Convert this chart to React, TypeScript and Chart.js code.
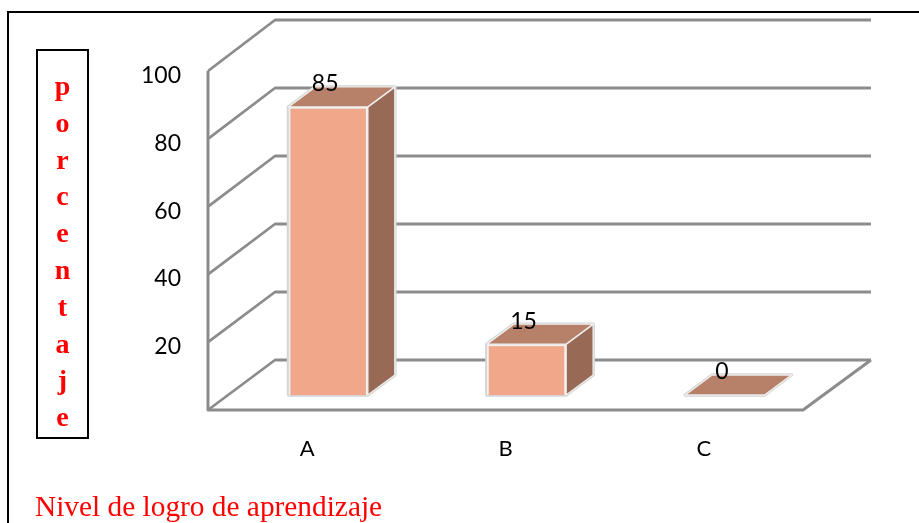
import React, { useEffect, useRef } from "react";
import { Chart, registerables } from "chart.js";

Chart.register(...registerables);

const categories = ["A", "B", "C"];
const values = [85, 15, 0];
const axisLetters = ["p", "o", "r", "c", "e", "n", "t", "a", "j", "e"];
const xTitle = "Nivel de logro de aprendizaje";

const FRONT = "#F1A88A";
const TOP = "#B78068";
const SIDE = "#986A56";
const GRID = "#8C8C8C";
const WALL_DX = 67;
const WALL_K = 340 / 339;
const BAR_DX = 21;
const BAR_DY = -15;
const DEPTH_X = 27;
const DEPTH_Y = -20;

const poly = (ctx: CanvasRenderingContext2D, pts: number[][], fill?: string, stroke?: string, lw = 1) => {
  ctx.beginPath();
  pts.forEach((p, i) => (i ? ctx.lineTo(p[0], p[1]) : ctx.moveTo(p[0], p[1])));
  if (fill) {
    ctx.closePath();
    ctx.fillStyle = fill;
    ctx.fill();
  }
  if (stroke) {
    ctx.strokeStyle = stroke;
    ctx.lineWidth = lw;
    ctx.lineJoin = "round";
    ctx.stroke();
  }
};

const threeD = {
  id: "threeD",
  beforeDatasetsDraw(chart: any) {
    const { ctx, chartArea: a, scales } = chart;
    const yS = scales.y;
    const backY = (y: number) => a.bottom - 50 + (y - a.bottom) * WALL_K;
    ctx.save();
    yS.ticks.forEach((t: any) => {
      const y = yS.getPixelForValue(t.value);
      poly(ctx, [[a.left, y], [a.left + WALL_DX, backY(y)], [a.right + WALL_DX + 1, backY(y)]], undefined, GRID, 2.8);
    });
    // floor edges and front vertical axis
    poly(ctx, [[a.left, a.top], [a.left, a.bottom], [a.right, a.bottom], [a.right + WALL_DX + 1, backY(a.bottom)]], undefined, GRID, 3);
    ctx.restore();

    ctx.save();
    ctx.translate(BAR_DX, BAR_DY);
    chart.getDatasetMeta(0).data.forEach((bar: any) => {
      const half = bar.width / 2;
      const l = bar.x - half;
      const r = bar.x + half;
      const t = bar.y;
      const b = bar.base;
      const edge = "#EDEDED";
      // soft grey halo round the whole block
      poly(
        ctx,
        [[l, b], [l, t], [l + DEPTH_X, t + DEPTH_Y], [r + DEPTH_X, t + DEPTH_Y], [r + DEPTH_X, b + DEPTH_Y], [r, b]],
        "#D4D4D4",
        "#D4D4D4",
        3.4
      );
      poly(ctx, [[r, t], [r + DEPTH_X, t + DEPTH_Y], [r + DEPTH_X, b + DEPTH_Y], [r, b]], SIDE, edge, 1.4);
      poly(ctx, [[l, t], [l + DEPTH_X, t + DEPTH_Y], [r + DEPTH_X, t + DEPTH_Y], [r, t]], TOP, edge, 1.4);
    });
    // stays translated so that the library's bars land in the middle of the floor
  },
  afterDatasetsDraw(chart: any) {
    const { ctx } = chart;
    ctx.restore();
    ctx.save();
    ctx.font = "23px Lato";
    ctx.fillStyle = "#000";
    ctx.textAlign = "center";
    ctx.textBaseline = "middle";
    chart.getDatasetMeta(0).data.forEach((bar: any, i: number) => {
      ctx.fillText(String(values[i]), bar.x + BAR_DX - 3, bar.y + BAR_DY - 23);
    });
    ctx.restore();
  },
};

export default function App() {
  const ref = useRef<HTMLCanvasElement>(null);
  useEffect(() => {
    const chart = new Chart(ref.current as HTMLCanvasElement, {
      type: "bar",
      data: {
        labels: categories,
        datasets: [
          {
            data: values,
            backgroundColor: FRONT,
            borderColor: "#F4F0EE",
            borderWidth: 2,
            barPercentage: 0.4,
            categoryPercentage: 1,
          },
        ],
      },
      plugins: [threeD],
      options: {
        animation: false,
        responsive: false,
        layout: { padding: { top: 71, right: 116, left: 0, bottom: 0 } },
        plugins: { legend: { display: false }, title: { display: false }, tooltip: { enabled: false } },
        scales: {
          x: {
            grid: { display: false },
            border: { display: false },
            ticks: { color: "#000", font: { family: "Lato", size: 22 }, padding: 18, maxRotation: 0 },
            afterFit: (s: any) => {
              s.height = 113;
            },
          },
          y: {
            min: 0,
            max: 100,
            grid: { display: false },
            border: { display: false },
            ticks: {
              stepSize: 20,
              color: "#000",
              font: { family: "Lato", size: 23 },
              padding: 19,
              labelOffset: 4.5,
              callback: (v: any) => (v === 0 ? "" : String(v)),
            },
            afterFit: (s: any) => {
              s.width = 208;
            },
          },
        },
      },
    } as any);
    return () => chart.destroy();
  }, []);

  return (
    <div style={{ position: "absolute", left: 0, top: 0, width: 919, height: 523, overflow: "hidden", background: "#fff" }}>
      <canvas ref={ref} width={919} height={523} style={{ position: "absolute", left: 0, top: 0 }} />
      <div style={{ position: "absolute", left: 7, top: 11, width: 930, height: 540, border: "2px solid #000", boxSizing: "border-box" }} />
      <div
        style={{
          position: "absolute",
          left: 36,
          top: 49,
          width: 53,
          height: 390,
          border: "2px solid #000",
          boxSizing: "border-box",
          fontFamily: "'Liberation Serif', serif",
          fontWeight: "bold",
          fontSize: 28,
          color: "#f00",
          textAlign: "center",
          lineHeight: "36.8px",
          paddingTop: 17,
        }}
      >
        {axisLetters.map((c, i) => (
          <div key={i}>{c}</div>
        ))}
      </div>
      <div
        style={{
          position: "absolute",
          left: 35,
          top: 489,
          fontFamily: "'Liberation Serif', serif",
          fontSize: 29.35,
          lineHeight: "34px",
          color: "#f00",
          whiteSpace: "nowrap",
        }}
      >
        {xTitle}
      </div>
    </div>
  );
}
